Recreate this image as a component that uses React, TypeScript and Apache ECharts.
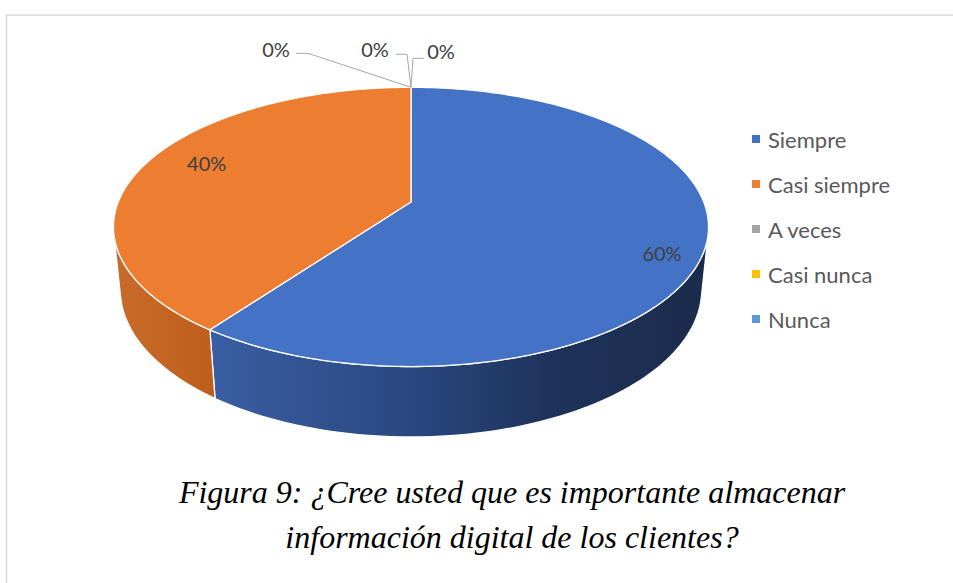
import React, { useEffect, useRef } from 'react';
import * as echarts from 'echarts';

// ---------- data ----------
const categories = ['Siempre', 'Casi siempre', 'A veces', 'Casi nunca', 'Nunca'];
const values = [60, 40, 0, 0, 0];
const captionLines = [
  'Figura 9: ¿Cree usted que es importante almacenar',
  'información digital de los clientes?',
];

// ---------- styles ----------
const topColors = ['#4472C4', '#ED7D31', '#A5A5A5', '#FFC000', '#5B9BD5'];
const sideStops: [number, string][][] = [
  [[0, '#3A5EA3'], [0.4, '#2A4780'], [0.7, '#1E3259'], [1, '#1B2B4C']],
  [[0, '#C96B29'], [1, '#BE5E1C']],
  [[0, '#8A8A8A'], [1, '#6E6E6E']],
  [[0, '#D9A300'], [1, '#B88A00']],
  [[0, '#4D85B8'], [1, '#3A6A96']],
];

// 3D perspective geometry (layout)
const CX = 411;
const CY = 202;
const FOCAL = 1455;
const DIST = 4.97;
const TILT = (27.5 * Math.PI) / 180;
const THICK = 0.2434;
const LABEL_R = 0.8;
const labelNudge: Record<number, [number, number]> = { 0: [18, 16], 1: [9, -7] };
const zeroLabelLayout = [
  { text: [-135, -38], line: [[-115, -34], [-103, -34]] },
  { text: [-36, -38], line: [[-15, -33], [-4, -33]] },
  { text: [30, -36.5], line: [[13, -29], [2, -29]] },
];

function project(u: number, w: number, y3: number): [number, number] {
  const sa = Math.sin(TILT);
  const ca = Math.cos(TILT);
  const pz = -w;
  const d = DIST - (y3 * sa + pz * ca);
  return [CX + (FOCAL * u) / d, CY - (FOCAL * (y3 * ca - pz * sa)) / d];
}

const total = values.reduce((a, b) => a + b, 0);
const starts: number[] = [];
{
  let acc = 0;
  values.forEach((v) => {
    starts.push(acc);
    acc += v;
  });
}

function renderItem(params: any, api: any) {
  const i = params.dataIndex;
  const v = api.value(0) as number;
  const a0 = (starts[i] / total) * 2 * Math.PI;
  const a1 = ((starts[i] + v) / total) * 2 * Math.PI;
  const pct = Math.round((v / total) * 100) + '%';
  const children: any[] = [];
  if (v > 0) {
    const lim = Math.acos(-1 / (DIST * Math.cos(TILT)));
    const s0 = Math.max(a0, lim);
    const s1 = Math.min(a1, 2 * Math.PI - lim);
    if (s1 > s0) {
      const topArc: [number, number][] = [];
      const botArc: [number, number][] = [];
      const n = 80;
      for (let k = 0; k <= n; k++) {
        const p = s0 + ((s1 - s0) * k) / n;
        topArc.push(project(Math.sin(p), Math.cos(p), 0));
        botArc.push(project(Math.sin(p), Math.cos(p), -THICK));
      }
      const pts = topArc.concat(botArc.reverse());
      const xs = pts.map((p) => p[0]);
      const grad = new echarts.graphic.LinearGradient(
        Math.min(...xs), 0, Math.max(...xs), 0,
        sideStops[i].map(([o, c]) => ({ offset: o, color: c })),
        true
      );
      children.push({
        type: 'polygon',
        shape: { points: pts },
        style: { fill: grad, stroke: '#FFFFFF', lineWidth: 1.3 },
      });
    }
    const top: [number, number][] = [project(0, 0, 0)];
    const n2 = Math.max(6, Math.ceil(((a1 - a0) / (2 * Math.PI)) * 300));
    for (let k = 0; k <= n2; k++) {
      const p = a0 + ((a1 - a0) * k) / n2;
      top.push(project(Math.sin(p), Math.cos(p), 0));
    }
    children.push({
      type: 'polygon',
      shape: { points: top },
      style: { fill: topColors[i], stroke: '#FFFFFF', lineWidth: 1.3 },
    });
    const m = (a0 + a1) / 2;
    const lp = project(LABEL_R * Math.sin(m), LABEL_R * Math.cos(m), 0);
    const nud = labelNudge[i] || [0, 0];
    children.push({
      type: 'text',
      x: lp[0] + nud[0],
      y: lp[1] + nud[1],
      style: {
        text: pct,
        fill: '#404040',
        font: '20px Lato, "Open Sans", sans-serif',
        textAlign: 'center',
        textVerticalAlign: 'middle',
      },
    });
  } else {
    const anchor = project(Math.sin(a0), Math.cos(a0), 0);
    const zi = values.slice(0, i).filter((x) => x === 0).length;
    const lay = zeroLabelLayout[zi % zeroLabelLayout.length];
    children.push({
      type: 'polyline',
      shape: {
        points: [
          [anchor[0] + lay.line[0][0], anchor[1] + lay.line[0][1]],
          [anchor[0] + lay.line[1][0], anchor[1] + lay.line[1][1]],
          anchor,
        ],
      },
      style: { stroke: '#A6A6A6', lineWidth: 1, fill: 'none' },
    });
    children.push({
      type: 'text',
      x: anchor[0] + lay.text[0],
      y: anchor[1] + lay.text[1],
      style: {
        text: pct,
        fill: '#404040',
        font: '20px Lato, "Open Sans", sans-serif',
        textAlign: 'center',
        textVerticalAlign: 'middle',
      },
    });
  }
  return { type: 'group', children };
}

export default function App() {
  const ref = useRef<HTMLDivElement>(null);
  useEffect(() => {
    if (!ref.current) return;
    const chart = echarts.init(ref.current, undefined, { renderer: 'svg' });
    chart.setOption({
      animation: false,
      backgroundColor: '#FFFFFF',
      color: topColors,
      legend: {
        orient: 'vertical',
        left: 747,
        top: 123,
        padding: 5,
        itemWidth: 8,
        itemHeight: 8,
        itemGap: 23,
        icon: 'rect',
        selectedMode: false,
        data: categories,
        textStyle: {
          fontFamily: 'Lato, "Open Sans", sans-serif',
          fontSize: 22,
          lineHeight: 22,
          color: '#595959',
          padding: [0, 0, 0, 3],
        },
      },
      graphic: [
        {
          type: 'rect',
          silent: true,
          z: -10,
          shape: { x: 6.5, y: 15, width: 1000, height: 1000 },
          style: { fill: 'none', stroke: '#D9D9D9', lineWidth: 1.5 },
        },
        ...captionLines.map((t, k) => ({
          type: 'text',
          x: 512,
          y: 492 + k * 45,
          silent: true,
          style: {
            text: t,
            fill: '#000000',
            font: 'italic 32px "Liberation Serif", "Times New Roman", serif',
            textAlign: 'center',
            textVerticalAlign: 'middle',
          },
        })),
      ],
      series: [
        {
          type: 'pie',
          radius: [0, 0],
          center: [CX, CY],
          silent: true,
          label: { show: false },
          labelLine: { show: false },
          data: categories.map((n, k) => ({ name: n, value: values[k] })),
        },
        {
          type: 'custom',
          coordinateSystem: 'none',
          silent: true,
          renderItem,
          data: categories.map((n, k) => ({ name: n, value: values[k] })),
        },
      ],
    });
    return () => chart.dispose();
  }, []);
  return (
    <div
      ref={ref}
      style={{ position: 'absolute', left: 0, top: 0, width: '953px', height: '583px' }}
    />
  );
}
